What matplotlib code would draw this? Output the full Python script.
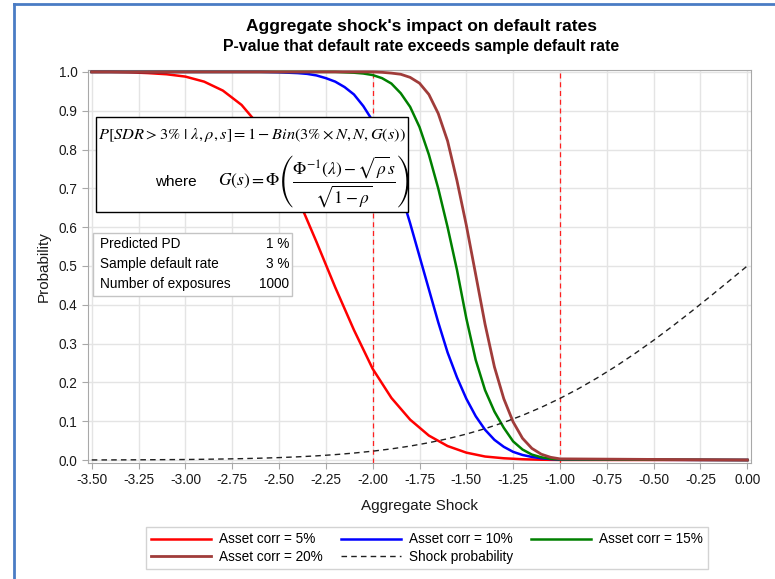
import matplotlib
matplotlib.use("Agg")
import matplotlib.pyplot as plt
from matplotlib.lines import Line2D
from matplotlib.patches import Rectangle
import numpy as np

plt.rcParams['font.family'] = ['Liberation Sans', 'DejaVu Sans']
plt.rcParams['mathtext.fontset'] = 'stix'

# P-value curves by asset correlation
red_x = [-3.5, -3.4, -3.3, -3.2, -3.1, -3.0, -2.9, -2.8, -2.7, -2.6, -2.5, -2.4,
         -2.3, -2.2, -2.1, -2.0, -1.9, -1.8, -1.7, -1.6, -1.5, -1.4, -1.3, -1.2,
         -1.1, -1.0, 0.0]
red_y = [1.0, 1.0, 0.999, 0.997, 0.994, 0.988, 0.975, 0.952, 0.915, 0.858, 0.775, 0.675,
         0.562, 0.445, 0.335, 0.235, 0.160, 0.104, 0.063, 0.036, 0.019, 0.009, 0.0045, 0.002,
         0.0007, 0.0002, 0.0]

blue_x = [-3.5, -2.6, -2.5, -2.45, -2.4, -2.35, -2.3, -2.25, -2.2, -2.15, -2.1, -2.05,
          -2.0, -1.95, -1.9, -1.85, -1.8, -1.75, -1.7, -1.65, -1.6, -1.55, -1.5, -1.45,
          -1.4, -1.35, -1.3, -1.25, -1.2, -1.15, -1.1, -1.05, -1.0, 0.0]
blue_y = [1.0, 1.0, 0.999, 0.998, 0.997, 0.995, 0.991, 0.984, 0.975, 0.961, 0.942, 0.912,
          0.874, 0.824, 0.762, 0.690, 0.610, 0.525, 0.440, 0.355, 0.277, 0.213, 0.158, 0.113,
          0.078, 0.052, 0.034, 0.021, 0.013, 0.008, 0.0045, 0.0025, 0.0012, 0.0]

green_x = [-3.5, -2.2, -2.1, -2.05, -2.0, -1.95, -1.9, -1.85, -1.8, -1.75, -1.7, -1.65,
           -1.6, -1.55, -1.5, -1.45, -1.4, -1.35, -1.3, -1.25, -1.2, -1.15, -1.1, -1.05,
           -1.0, 0.0]
green_y = [1.0, 1.0, 0.998, 0.996, 0.992, 0.984, 0.970, 0.945, 0.910, 0.858, 0.787, 0.700,
           0.600, 0.490, 0.365, 0.258, 0.180, 0.125, 0.083, 0.048, 0.027, 0.014, 0.007, 0.003,
           0.0015, 0.0]

brown_x = [-3.5, -2.0, -1.95, -1.9, -1.85, -1.8, -1.75, -1.7, -1.65, -1.6, -1.55, -1.5,
           -1.45, -1.4, -1.35, -1.3, -1.25, -1.2, -1.15, -1.1, -1.05, -1.0, 0.0]
brown_y = [1.0, 1.0, 0.999, 0.997, 0.994, 0.986, 0.971, 0.942, 0.893, 0.822, 0.720, 0.605,
           0.478, 0.350, 0.240, 0.158, 0.098, 0.056, 0.030, 0.015, 0.007, 0.003, 0.0]

# probability of the aggregate shock
shock_x = [-3.5, -3.4, -3.3, -3.2, -3.1, -3.0, -2.9, -2.8, -2.7, -2.6, -2.5, -2.4,
           -2.3, -2.2, -2.1, -2.0, -1.9, -1.8, -1.7, -1.6, -1.5, -1.4, -1.3, -1.2,
           -1.1, -1.0, -0.9, -0.8, -0.7, -0.6, -0.5, -0.4, -0.3, -0.2, -0.1, 0.0]
shock_y = [0.0002, 0.0003, 0.0005, 0.0007, 0.0010, 0.0013, 0.0019, 0.0026, 0.0035, 0.0047,
           0.0062, 0.0082, 0.0107, 0.0139, 0.0179, 0.0228, 0.0287, 0.0359, 0.0446, 0.0548,
           0.0668, 0.0808, 0.0968, 0.1151, 0.1357, 0.1587, 0.1841, 0.2119, 0.2420, 0.2743,
           0.3085, 0.3446, 0.3821, 0.4207, 0.4602, 0.5000]

ref_lines = [-2.0, -1.0]

info_labels = ['Predicted PD', 'Sample default rate', 'Number of exposures']
info_values = ['1 %', '3 %', '1000']

W, H = 775, 579
fig = plt.figure(figsize=(W / 100, H / 100), dpi=100)
L, R, T, B = 88, 751, 70, 463
ax = fig.add_axes([L / W, 1 - B / H, (R - L) / W, (B - T) / H])

ax.plot(red_x, red_y, color='#ff0000', lw=1.8, label='Asset corr = 5%', zorder=3)
ax.plot(blue_x, blue_y, color='#0000ff', lw=1.8, label='Asset corr = 10%', zorder=3)
ax.plot(green_x, green_y, color='#008000', lw=1.8, label='Asset corr = 15%', zorder=3)
ax.plot(brown_x, brown_y, color='#a03c3a', lw=2.0, label='Asset corr = 20%', zorder=3)
ax.plot(shock_x, shock_y, color='#202020', lw=1.0, ls=(0, (4, 3)), label='Shock probability', zorder=3)

for xv in ref_lines:
    ax.axvline(xv, color='#ff2020', lw=0.9, ls=(0, (4, 3)), zorder=2)

ax.set_xlim(-3.52, 0.02)
ax.set_ylim(-0.0077, 1.005)
ax.set_xticks(np.arange(-3.5, 0.001, 0.25))
ax.set_xticklabels(['%.2f' % v for v in np.arange(-3.5, 0.001, 0.25)])
ax.set_yticks(np.arange(0, 1.001, 0.1))
ax.set_yticklabels(['%.1f' % v for v in np.arange(0, 1.001, 0.1)])
ax.grid(True, color='#e4e4e4', lw=1.0, zorder=0)
ax.set_axisbelow(True)
for sp in ax.spines.values():
    sp.set_color('#a8a8a8')
ax.tick_params(colors='#a8a8a8', labelcolor='#1a1a1a', labelsize=9.8, length=4)

ax.set_xlabel('Aggregate Shock', fontsize=11, color='#1a1a1a', labelpad=8)
ax.set_ylabel('Probability', fontsize=11, color='#1a1a1a', labelpad=6)

fig.text(421 / W, 1 - 27 / H, "Aggregate shock's impact on default rates",
         ha='center', va='center', fontsize=12.5, fontweight='bold')
fig.text(421 / W, 1 - 46 / H, "P-value that default rate exceeds sample default rate",
         ha='center', va='center', fontsize=11.4, fontweight='bold')


def axfrac(px, py):
    return (px - L) / (R - L), (B - py) / (B - T)


# formula box
x0, y0 = axfrac(96, 212)
x1, y1 = axfrac(408, 117)
ax.add_patch(Rectangle((x0, y0), x1 - x0, y1 - y0, transform=ax.transAxes,
                       facecolor='white', edgecolor='black', lw=1.0, zorder=5))
tx, ty = axfrac(98, 135)
ax.text(tx, ty, r'$P\left[SDR > 3\%\ |\ \lambda,\rho,s\right] = 1 - Bin\left(3\% \times N,N,G(s)\right)$',
        transform=ax.transAxes, ha='left', va='center', fontsize=11.8, zorder=6)
tx, ty = axfrac(155, 182)
ax.text(tx, ty, 'where', transform=ax.transAxes, ha='left', va='center', fontsize=11, zorder=6)
tx, ty = axfrac(218, 182)
ax.text(tx, ty, r'$G(s) = \Phi\left(\dfrac{\Phi^{-1}(\lambda) - \sqrt{\rho}s}{\sqrt{1-\rho}}\right)$',
        transform=ax.transAxes, ha='left', va='center', fontsize=12.5, zorder=6)

# parameter table
x0, y0 = axfrac(93, 296)
x1, y1 = axfrac(292, 233)
ax.add_patch(Rectangle((x0, y0), x1 - x0, y1 - y0, transform=ax.transAxes,
                       facecolor='white', edgecolor='#c4c4c4', lw=1.0, zorder=5))
for i, (lab, val) in enumerate(zip(info_labels, info_values)):
    py = 244 + i * 20
    lx, ly = axfrac(100, py)
    rx, _ = axfrac(289, py)
    ax.text(lx, ly, lab, transform=ax.transAxes, ha='left', va='center', fontsize=9.8, zorder=6)
    ax.text(rx, ly, val, transform=ax.transAxes, ha='right', va='center', fontsize=9.8, zorder=6)

# legend: rows 5/10/15 then 20/shock
h, l = ax.get_legend_handles_labels()
order = [0, 3, 1, 4, 2]
leg = fig.legend([h[i] for i in order], [l[i] for i in order], ncol=3,
                 loc='center', bbox_to_anchor=(427 / W, 1 - 548 / H),
                 fontsize=9.8, frameon=True, fancybox=False, handlelength=4.4,
                 handletextpad=0.6, columnspacing=1.3, borderpad=0.4, labelspacing=0.25)
leg.get_frame().set_edgecolor('#c8c8c8')
leg.get_frame().set_linewidth(1.0)

# outer frame
fig.add_artist(Line2D([14 / W, 14 / W], [0, 1 - 4 / H], color='#4a7cc4', lw=2.0))
fig.add_artist(Line2D([14 / W, 1], [1 - 4 / H, 1 - 4 / H], color='#4a7cc4', lw=2.0))

fig.savefig('out.png', dpi=100)
